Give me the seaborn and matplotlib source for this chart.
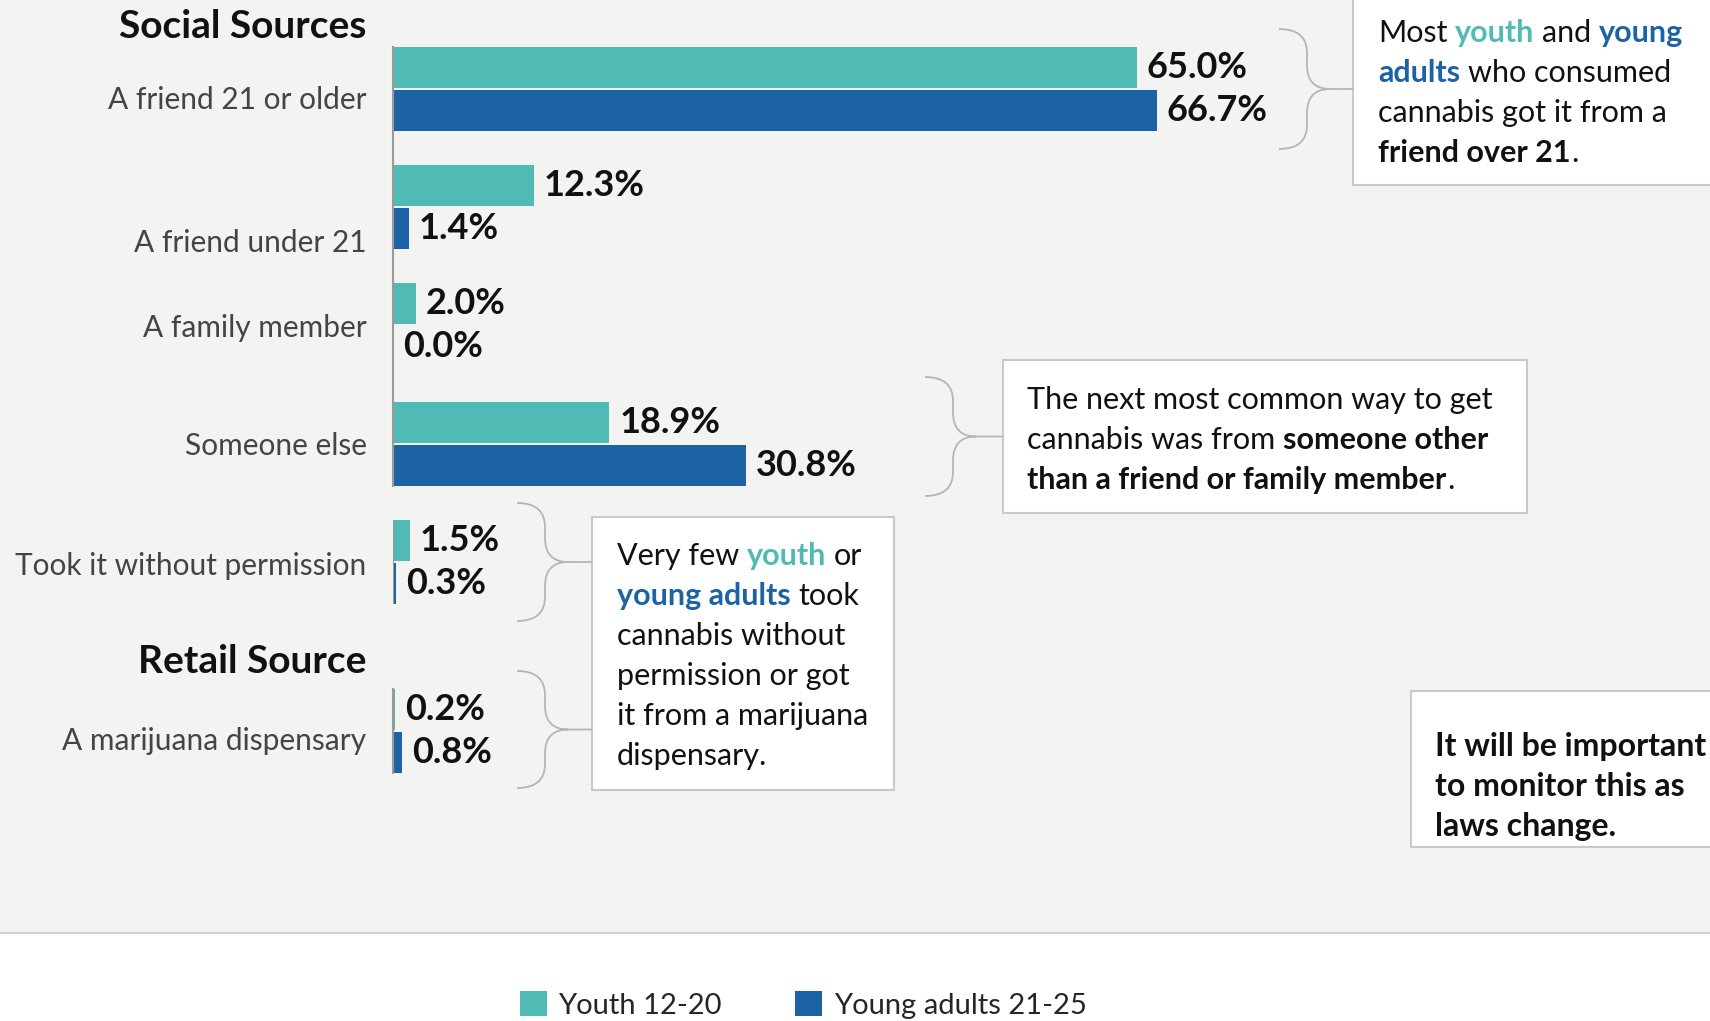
import pandas as pd
import seaborn as sns
import matplotlib.pyplot as plt
from matplotlib.patches import Rectangle, PathPatch
from matplotlib.path import Path
from matplotlib.transforms import ScaledTranslation

sns.set_theme(style="white")
plt.rcParams["font.family"] = ["Lato", "DejaVu Sans"]

TEAL = "#4fbbb4"
BLUE = "#1b63a5"
BG = "#f3f3f2"
EDGE = "#c9c9c9"
INK = "#111111"

# data (percent)
groups = ["Youth 12-20", "Young adults 21-25"]
social_sources = ["A friend 21 or older", "A friend under 21", "A family member",
                  "Someone else", "Took it without permission"]
social_youth = [65.0, 12.3, 2.0, 18.9, 1.5]
social_young_adults = [66.7, 1.4, 0.0, 30.8, 0.3]
retail_sources = ["A marijuana dispensary"]
retail_youth = [0.2]
retail_young_adults = [0.8]


def long_table(sources, youth, adults):
    return pd.DataFrame({
        "source": sources + sources,
        "pct": youth + adults,
        "group": [groups[0]] * len(sources) + [groups[1]] * len(sources),
    })


social = long_table(social_sources, social_youth, social_young_adults)
retail = long_table(retail_sources, retail_youth, retail_young_adults)

W, H = 1710, 1021
fig = plt.figure(figsize=(W / 100, H / 100), dpi=100)
fig.add_artist(Rectangle((0, 1 - 933 / H), 1, 933 / H, transform=fig.transFigure,
                         facecolor=BG, edgecolor="none", zorder=-2))
fig.add_artist(plt.Line2D([0, 1], [1 - 933 / H] * 2, transform=fig.transFigure,
                          color="#cfcfcf", lw=1.5, zorder=-1))

slot = 118.25
ax_top = fig.add_axes([393 / W, 1 - 621 / H, 1145 / W, 5 * slot / H])
ax_bot = fig.add_axes([393 / W, 1 - 790 / H, 1145 / W, slot / H])

# the row labels sit a little below their bars in the original (pixels)
label_drop = {ax_top: [9, 33, 0, 0, 2], ax_bot: [8]}

handles, labels = None, None
for ax, table, n in [(ax_top, social, len(social_sources)), (ax_bot, retail, len(retail_sources))]:
    sns.barplot(data=table, y="source", x="pct", hue="group", palette=[TEAL, BLUE],
                orient="h", width=0.73, gap=0.05, saturation=1, linewidth=0, ax=ax)
    handles, labels = ax.get_legend_handles_labels()
    ax.get_legend().remove()
    ax.set_facecolor("none")
    ax.set_xlim(0, 100)
    ax.set_ylim(n - 0.5, -0.5)
    ax.set_xlabel("")
    ax.set_ylabel("")
    ax.set_xticks([])
    ax.tick_params(axis="y", length=0, pad=19, labelsize=21.5, labelcolor="#444444")
    for lab, drop in zip(ax.get_yticklabels(), label_drop[ax]):
        lab.set_transform(lab.get_transform() + ScaledTranslation(0, -drop / 100, fig.dpi_scale_trans))
    for side in ["top", "right", "bottom"]:
        ax.spines[side].set_visible(False)
    ax.spines["left"].set_color("#9a9a9a")
    ax.spines["left"].set_linewidth(1.5)
    for c in ax.containers:
        ax.bar_label(c, fmt="%.1f%%", padding=7, fontsize=26, fontweight="bold", color=INK)

# left rule: continuous for the first four rows, separate for the last social row
bars = ax_top.patches
n = len(social_sources)
last = n - 1
ax_top.spines["left"].set_bounds(bars[0].get_y(), bars[last - 1 + n].get_y() + bars[last - 1 + n].get_height())
ax_top.vlines(0, bars[last].get_y(), bars[last + n].get_y() + bars[last + n].get_height(),
              color="#9a9a9a", lw=1.5)
rb = ax_bot.patches
ax_bot.spines["left"].set_bounds(rb[0].get_y(), rb[1].get_y() + rb[1].get_height())

# decoration layer in pixel coordinates
deco = fig.add_axes([0, 0, 1, 1], zorder=5)
deco.set_xlim(0, W)
deco.set_ylim(H, 0)
deco.axis("off")

deco.text(366, 26, "Social Sources", ha="right", va="center", fontsize=28, fontweight="bold", color=INK)
deco.text(366, 661, "Retail Source", ha="right", va="center", fontsize=28, fontweight="bold", color=INK)


def box(x0, y0, x1, y1):
    deco.add_patch(Rectangle((x0, y0), x1 - x0, y1 - y0, facecolor="white",
                             edgecolor=EDGE, lw=1.5, clip_on=False))


def brace(x0, y_top, y_bot, x_box, depth=28, reach=51, r=24):
    xv, xt, ym = x0 + depth, x0 + reach, (y_top + y_bot) / 2
    verts = [(x0, y_top), (xv, y_top), (xv, y_top + r), (xv, ym - r), (xv, ym), (xt, ym),
             (x_box, ym),
             (xt, ym), (xv, ym), (xv, ym + r), (xv, y_bot - r), (xv, y_bot), (x0, y_bot)]
    codes = [Path.MOVETO, Path.CURVE3, Path.CURVE3, Path.LINETO, Path.CURVE3, Path.CURVE3,
             Path.LINETO,
             Path.MOVETO, Path.CURVE3, Path.CURVE3, Path.LINETO, Path.CURVE3, Path.CURVE3]
    deco.add_patch(PathPatch(Path(verts, codes), facecolor="none", edgecolor="#b5b5b5", lw=1.3))


def rich_line(x, y, segments, size=22):
    prev = None
    for text, bold, color, space in segments:
        kw = dict(fontsize=size, fontweight="bold" if bold else "normal",
                  color=color, va="baseline", ha="left")
        if prev is None:
            prev = deco.text(x, y, text, **kw)
        else:
            prev = deco.annotate(text, xy=(1, y), xycoords=(prev, "data"),
                                 xytext=(5.5 if space else 0.8, 0), textcoords="offset points", **kw)


def rich_block(x, y0, lines, step=40, size=22):
    for i, segs in enumerate(lines):
        rich_line(x, y0 + i * step, segs, size=size)


# annotation 1
box(1353, -5, 1730, 185)
brace(1279, 29, 149, 1353)
rich_block(1378, 42, [
    [("Most", False, INK, False), ("youth", True, TEAL, True), ("and", False, INK, True), ("young", True, BLUE, True)],
    [("adults", True, BLUE, False), ("who consumed", False, INK, True)],
    [("cannabis got it from a", False, INK, False)],
    [("friend over 21", True, INK, False), (".", False, INK, False)],
])

# annotation 2
box(1003, 360, 1527, 513)
brace(925, 377, 496, 1003)
rich_block(1027, 409, [
    [("The next most common way to get", False, INK, False)],
    [("cannabis was from", False, INK, False), ("someone other", True, INK, True)],
    [("than a friend or family member", True, INK, False), (".", False, INK, False)],
])

# annotation 3
box(592, 517, 894, 790)
brace(517, 503, 621, 592)
brace(517, 671, 788, 592)
rich_block(617, 565, [
    [("Very few", False, INK, False), ("youth", True, TEAL, True), ("or", False, INK, True)],
    [("young adults", True, BLUE, False), ("took", False, INK, True)],
    [("cannabis without", False, INK, False)],
    [("permission or got", False, INK, False)],
    [("it from a marijuana", False, INK, False)],
    [("dispensary.", False, INK, False)],
])

# annotation 4
box(1411, 691, 1730, 847)
rich_block(1435, 756, [
    [("It will be important", True, INK, False)],
    [("to monitor this as", True, INK, False)],
    [("laws change.", True, INK, False)],
], size=23)

fig.legend(handles, labels, loc="center", bbox_to_anchor=(803 / W, 1 - 1005 / H), ncol=2,
           frameon=False, fontsize=21, handlelength=0.93, handleheight=0.93,
           handletextpad=0.4, columnspacing=2.5)

fig.savefig("out.png", dpi=100)
